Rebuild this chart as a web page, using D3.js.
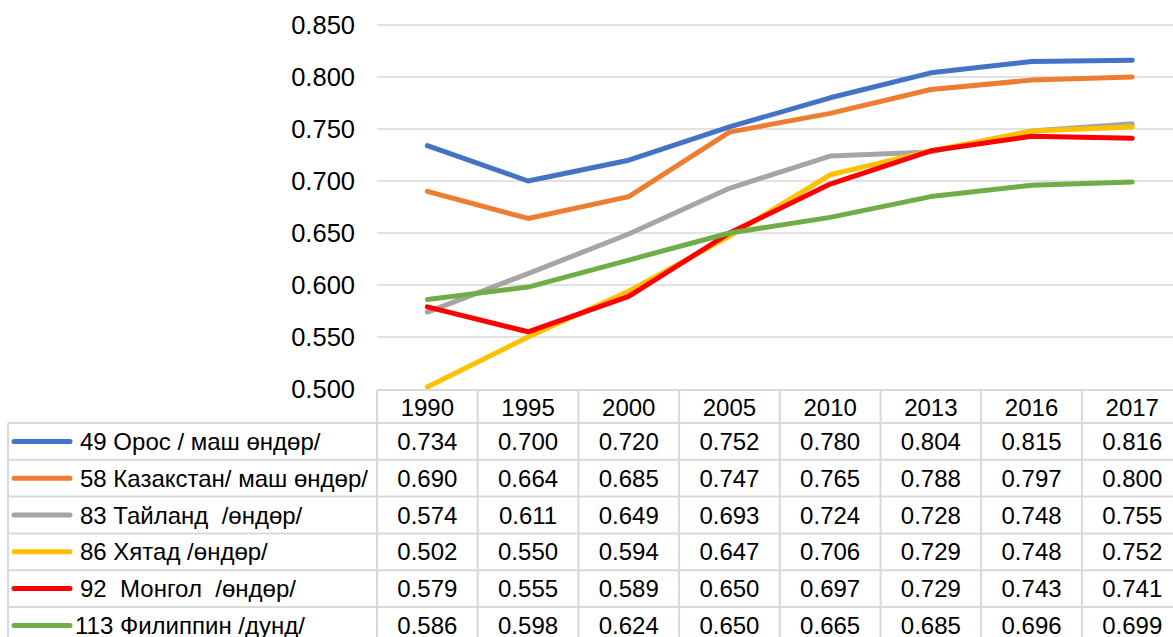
<!DOCTYPE html>
<html>
<head>
<meta charset="utf-8">
<script src="https://cdn.jsdelivr.net/npm/d3@7"></script>
<style>
  body { margin: 0; background: #fff; overflow: hidden; }
  text { font-family: Arial, "Liberation Sans", sans-serif; fill: #000; }
</style>
</head>
<body>
<script>
// data
var years = ["1990", "1995", "2000", "2005", "2010", "2013", "2016", "2017"];
var seriesNames = [
  "49 Орос / маш өндөр/",
  "58 Казакстан/ маш өндөр/",
  "83 Тайланд  /өндөр/",
  "86 Хятад /өндөр/",
  "92  Монгол  /өндөр/",
  "113 Филиппин /дунд/"
];
var seriesColors = ["#4472C4", "#ED7D31", "#A5A5A5", "#FFC000", "#FF0000", "#70AD47"];
var russia     = [0.734, 0.700, 0.720, 0.752, 0.780, 0.804, 0.815, 0.816];
var kazakhstan = [0.690, 0.664, 0.685, 0.747, 0.765, 0.788, 0.797, 0.800];
var thailand   = [0.574, 0.611, 0.649, 0.693, 0.724, 0.728, 0.748, 0.755];
var china      = [0.502, 0.550, 0.594, 0.647, 0.706, 0.729, 0.748, 0.752];
var mongolia   = [0.579, 0.555, 0.589, 0.650, 0.697, 0.729, 0.743, 0.741];
var philippines= [0.586, 0.598, 0.624, 0.650, 0.665, 0.685, 0.696, 0.699];
var yTicks = [0.500, 0.550, 0.600, 0.650, 0.700, 0.750, 0.800, 0.850];

var allSeries = [russia, kazakhstan, thailand, china, mongolia, philippines];

var W = 1173, H = 637;
var plotLeft = 377, colW = 100.7, plotTop = 25, plotBottom = 389;
var tableLeft = 8, headerTop = 390, headerBottom = 423, rowH = 36.8;
var grid = "#d9d9d9";

var svg = d3.select("body").append("svg")
    .attr("width", W)
    .attr("height", H);

var x = d3.scaleBand()
    .domain(years)
    .range([plotLeft, plotLeft + colW * years.length])
    .padding(0);

var y = d3.scaleLinear()
    .domain([0.5, 0.85])
    .range([plotBottom, plotTop]);

// gridlines
svg.append("g").selectAll("line")
    .data(yTicks.slice(1))
    .enter().append("line")
    .attr("x1", plotLeft)
    .attr("x2", W)
    .attr("y1", function(d) { return y(d); })
    .attr("y2", function(d) { return y(d); })
    .attr("stroke", grid)
    .attr("stroke-width", 1.5);

// y axis labels
svg.append("g").selectAll("text")
    .data(yTicks)
    .enter().append("text")
    .attr("x", 355)
    .attr("y", function(d) { return y(d); })
    .attr("dy", "0.36em")
    .attr("text-anchor", "end")
    .style("font-size", "25.5px")
    .text(function(d) { return d3.format(".3f")(d); });

// lines
var line = d3.line()
    .x(function(d, i) { return x(years[i]) + x.bandwidth() / 2; })
    .y(function(d) { return y(d); });

svg.append("g").selectAll("path")
    .data(allSeries)
    .enter().append("path")
    .attr("d", line)
    .attr("fill", "none")
    .attr("stroke", function(d, i) { return seriesColors[i]; })
    .attr("stroke-width", 5)
    .attr("stroke-linejoin", "round")
    .attr("stroke-linecap", "round");

// data table
var table = svg.append("g");
var tableRight = plotLeft + colW * years.length;
var tableBottom = headerBottom + rowH * seriesNames.length;

// horizontal borders
table.append("line")
    .attr("x1", plotLeft).attr("x2", tableRight)
    .attr("y1", headerTop).attr("y2", headerTop)
    .attr("stroke", grid).attr("stroke-width", 2);
table.selectAll(".hrow")
    .data(d3.range(seriesNames.length + 1))
    .enter().append("line")
    .attr("x1", tableLeft).attr("x2", tableRight)
    .attr("y1", function(d) { return headerBottom + d * rowH; })
    .attr("y2", function(d) { return headerBottom + d * rowH; })
    .attr("stroke", grid).attr("stroke-width", 2);

// vertical borders
table.selectAll(".vcol")
    .data(years.concat(["end"]))
    .enter().append("line")
    .attr("x1", function(d, i) { return plotLeft + i * colW; })
    .attr("x2", function(d, i) { return plotLeft + i * colW; })
    .attr("y1", headerTop)
    .attr("y2", tableBottom)
    .attr("stroke", grid).attr("stroke-width", 2);
table.append("line")
    .attr("x1", tableLeft).attr("x2", tableLeft)
    .attr("y1", headerBottom).attr("y2", tableBottom)
    .attr("stroke", grid).attr("stroke-width", 2);

// header years
table.selectAll(".yr")
    .data(years)
    .enter().append("text")
    .attr("x", function(d) { return x(d) + x.bandwidth() / 2; })
    .attr("y", (headerTop + headerBottom) / 2 + 1)
    .attr("dy", "0.36em")
    .attr("text-anchor", "middle")
    .style("font-size", "24px")
    .text(function(d) { return d; });

// rows
var rows = table.selectAll(".row")
    .data(allSeries)
    .enter().append("g")
    .attr("transform", function(d, i) {
      return "translate(0," + (headerBottom + rowH * (i + 0.5)) + ")";
    });

rows.append("line")
    .attr("x1", 14).attr("x2", 70)
    .attr("y1", 0).attr("y2", 0)
    .attr("stroke", function(d, i) { return seriesColors[i]; })
    .attr("stroke-width", 5)
    .attr("stroke-linecap", "round");

rows.append("text")
    .attr("x", function(d, i) { return i == 5 ? 75 : 80; })
    .attr("dy", "0.36em")
    .style("font-size", "24px")
    .style("white-space", "pre")
    .text(function(d, i) { return seriesNames[i]; });

rows.selectAll(".val")
    .data(function(d) { return d; })
    .enter().append("text")
    .attr("x", function(d, i) { return x(years[i]) + x.bandwidth() / 2; })
    .attr("dy", "0.36em")
    .attr("text-anchor", "middle")
    .style("font-size", "24px")
    .text(function(d) { return d3.format(".3f")(d); });
</script>
</body>
</html>
